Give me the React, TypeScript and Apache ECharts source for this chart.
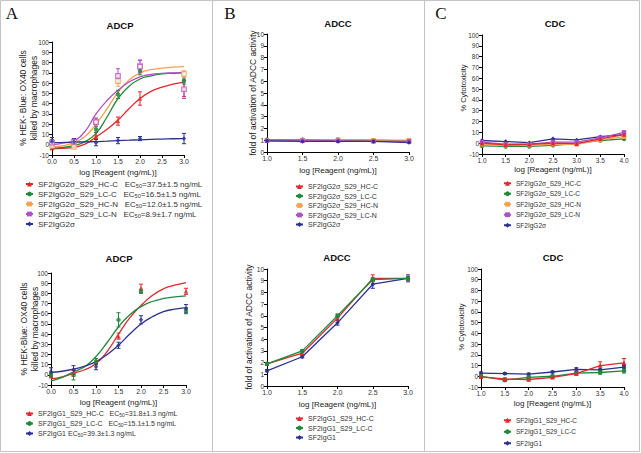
import React, { useEffect, useRef } from "react";
import * as echarts from "echarts";

const FONT = "'Liberation Sans', Arial, sans-serif";
const SERIF = "'Liberation Serif', 'Times New Roman', serif";

const RED = "#e3262d";
const GREEN = "#1f8a3b";
const ORANGE = "#f4a34c";
const PURPLE = "#b24ec6";
const BLUE = "#2c3192";

// ---- names / legends ----
const NAMES_G2 = ["SF2IgG2σ_S29_HC-C", "SF2IgG2σ_S29_LC-C", "SF2IgG2σ_S29_HC-N", "SF2IgG2σ_S29_LC-N", "SF2IgG2σ"];
const EC50_G2 = ["37.5±1.5", "16.5±1.5", "12.0±1.5", "8.9±1.7", ""];
const NAMES_G1 = ["SF2IgG1_S29_HC-C", "SF2IgG1_S29_LC-C", "SF2IgG1"];
const EC50_G1 = ["31.8±1.3", "15.1±1.5", "39.3±1.3"];
const COLORS_G2 = [RED, GREEN, ORANGE, PURPLE, BLUE];
const COLORS_G1 = [RED, GREEN, BLUE];
const SYMBOLS_G2 = ["triangle", "circle", "rect", "rect", "diamond"];
const HOLLOW_G2 = [false, false, true, true, false];
const SYMBOLS_G1 = ["triangle", "circle", "diamond"];

// ---- x values (log [Reagent (ng/mL)]) ----
const LOG_DOSE_ADCP = [0, 0.5, 1, 1.5, 2, 3];
const LOG_DOSE_FIT = [0, 0.25, 0.5, 0.75, 1, 1.25, 1.5, 1.75, 2, 2.25, 2.5, 2.75, 3];
const LOG_DOSE_ADCC = [1, 1.5, 2, 2.5, 3];
const LOG_DOSE_CDC = [1, 1.5, 2, 2.5, 3, 3.5, 4];

// ---- Panel A top: ADCP, SF2IgG2σ ----
const ADCP_G2_HCC_PTS = [-3, -1, 9, 23, 45, 55];
const ADCP_G2_LCC_PTS = [0, 2, 15, 49, 72, 62];
const ADCP_G2_HCN_PTS = [-1, -2, 22, 62, 77, 69];
const ADCP_G2_LCN_PTS = [2, 3, 22, 67, 76, 54];
const ADCP_G2_WT_PTS = [3, 3, 2, 4, 6, 6];
const ADCP_G2_HCC_ERR = [2, 2, 3, 4, 6.5, 8];
const ADCP_G2_LCC_ERR = [2, 2, 3, 4, 4, 3];
const ADCP_G2_HCN_ERR = [2, 1, 4, 5, 6, 3];
const ADCP_G2_LCN_ERR = [3, 2, 4, 7, 6, 9];
const ADCP_G2_WT_ERR = [4, 3, 3, 3, 2, 5];
const ADCP_G2_HCC_FIT = [-4, -3.5, -2.5, 0.5, 7.5, 15, 24, 35, 45, 52, 56, 59, 61];
const ADCP_G2_LCC_FIT = [-3, -2.5, -1, 3, 11, 27, 45, 57, 64, 67, 69, 69.5, 70];
const ADCP_G2_HCN_FIT = [-2, -1, 2, 8, 20, 35, 51, 63, 70, 73, 74.5, 75.5, 76];
const ADCP_G2_LCN_FIT = [0, 1.5, 4, 13, 30, 43, 53, 61, 66, 68.5, 69.5, 70, 70.5];
const ADCP_G2_WT_FIT = [2, 2.2, 2.5, 2.8, 3, 3.5, 4, 4.4, 4.8, 5.2, 5.5, 5.8, 6];

// ---- Panel A bottom: ADCP, SF2IgG1 ----
const ADCP_G1_HCC_PTS = [-1, 1.5, 13, 38, 85, 82];
const ADCP_G1_LCC_PTS = [0, 0, 13, 54, 82, 63];
const ADCP_G1_WT_PTS = [3, 5, 8, 29, 54, 65];
const ADCP_G1_HCC_ERR = [2, 3, 3, 3, 4, 3];
const ADCP_G1_LCC_ERR = [2, 5, 3, 7, 2, 3];
const ADCP_G1_WT_ERR = [4, 4, 3, 3, 4, 4];
const ADCP_G1_HCC_FIT = [-4, -2, 1.5, 5, 11, 23, 40, 56, 68, 78, 84.5, 88, 90.5];
const ADCP_G1_LCC_FIT = [-6, -2.5, 3, 8, 18, 32, 47, 59, 67, 72, 75, 76.5, 77.5];
const ADCP_G1_WT_FIT = [2.5, 3.5, 5.5, 8.5, 13, 20, 29, 40, 50, 57, 62, 64.5, 66];

// ---- Panel B: ADCC fold activation ----
const ADCC_G2_HCC = [1.0, 1.0, 0.95, 0.95, 0.9];
const ADCC_G2_LCC = [1.05, 1.05, 1.05, 1.0, 0.95];
const ADCC_G2_HCN = [1.0, 1.0, 1.05, 1.0, 1.0];
const ADCC_G2_LCN = [0.95, 0.95, 0.95, 0.9, 0.9];
const ADCC_G2_WT = [0.95, 0.9, 0.9, 0.9, 0.8];
const ADCC_G1_HCC = [1.9, 2.8, 5.8, 9.2, 9.2];
const ADCC_G1_LCC = [1.9, 3.0, 6.0, 9.1, 9.2];
const ADCC_G1_WT = [1.3, 2.5, 5.4, 8.7, 9.2];
const ADCC_G1_HCC_ERR = [0.1, 0.1, 0.15, 0.3, 0.15];
const ADCC_G1_LCC_ERR = [0.1, 0.1, 0.15, 0.15, 0.15];
const ADCC_G1_WT_ERR = [0.1, 0.1, 0.2, 0.35, 0.3];

// ---- Panel C: CDC % cytotoxicity ----
const CDC_G2_HCC = [0, -1.5, -1, 0, -0.5, 4, 8];
const CDC_G2_LCC = [-2.5, -3, -3, -2, -0.5, 2.5, 4];
const CDC_G2_HCN = [-1, -2, -2, -1, -1, 3, 6];
const CDC_G2_LCN = [1, -1, -1, 1, 1, 5, 10];
const CDC_G2_WT = [2.5, 1.5, 0.5, 4, 3, 6, 8];
const CDC_G1_HCC = [-0.5, -2.5, -3, -1, 2.5, 10, 12.5];
const CDC_G1_LCC = [0, -3.5, -1, 0, 3, 3.5, 5];
const CDC_G1_WT = [3, 2.5, 2, 4, 6.5, 6, 8.5];
const CDC_G1_HCC_ERR = [1, 1, 1, 1, 1.5, 3.5, 4];
const CDC_G1_LCC_ERR = [1, 1.5, 1, 1, 1.5, 1.5, 2];
const CDC_G1_WT_ERR = [1, 1, 1, 1, 1.5, 1, 1.5];

const errorBar = (color: string) => (params: any, api: any) => {
  const x = api.value(0);
  const lo = api.coord([x, api.value(1)]);
  const hi = api.coord([x, api.value(2)]);
  const cap = 2;
  const style = { stroke: color, lineWidth: 1, fill: "none" };
  return {
    type: "group",
    children: [
      { type: "line", shape: { x1: lo[0], y1: lo[1], x2: hi[0], y2: hi[1] }, style },
      { type: "line", shape: { x1: lo[0] - cap, y1: lo[1], x2: lo[0] + cap, y2: lo[1] }, style },
      { type: "line", shape: { x1: hi[0] - cap, y1: hi[1], x2: hi[0] + cap, y2: hi[1] }, style },
    ],
  };
};

const pairs = (xs: number[], ys: number[]) => xs.map((x, k) => [x, ys[k]]);

function errSeries(gi: number, color: string, xs: number[], ys: number[], err: number[]) {
  return {
    type: "custom",
    xAxisIndex: gi,
    yAxisIndex: gi,
    silent: true,
    z: 3,
    renderItem: errorBar(color),
    encode: { x: 0, y: [1, 2] },
    data: xs.map((x, k) => [x, ys[k] - err[k], ys[k] + err[k]]),
  };
}

function fitSeries(gi: number, name: string, color: string, symbol: string, ys: number[]) {
  return {
    type: "line",
    name,
    xAxisIndex: gi,
    yAxisIndex: gi,
    data: pairs(LOG_DOSE_FIT, ys),
    smooth: 0.5,
    showSymbol: false,
    symbol,
    lineStyle: { color, width: 1.3 },
    itemStyle: { color },
    z: 2,
    silent: true,
  };
}

function pointSeries(gi: number, name: string, color: string, symbol: string, hollow: boolean, xs: number[], ys: number[]) {
  return {
    type: "scatter",
    name,
    xAxisIndex: gi,
    yAxisIndex: gi,
    data: pairs(xs, ys),
    symbol,
    symbolSize: 4.5,
    itemStyle: hollow ? { color: "#fff", borderColor: color, borderWidth: 1.2 } : { color },
    z: 4,
    silent: true,
  };
}

function lineSeries(gi: number, name: string, color: string, symbol: string, xs: number[], ys: number[]) {
  return {
    type: "line",
    name,
    xAxisIndex: gi,
    yAxisIndex: gi,
    data: pairs(xs, ys),
    symbol,
    symbolSize: 4.5,
    showSymbol: true,
    lineStyle: { color, width: 1.3 },
    itemStyle: { color },
    z: 3,
    silent: true,
  };
}

function xAxis(gi: number, min: number, max: number, gap: number, fs: number) {
  return {
    type: "value",
    gridIndex: gi,
    min,
    max,
    interval: 0.5,
    name: "log [Reagent (ng/mL)]",
    nameLocation: "middle",
    nameGap: gap,
    nameTextStyle: { fontSize: 8, color: "#222", fontFamily: FONT },
    axisLine: { show: true, onZero: false, lineStyle: { color: "#000", width: 1 } },
    axisTick: { show: true, length: 3, lineStyle: { color: "#000" } },
    axisLabel: { fontSize: fs, color: "#333", margin: 3, fontFamily: FONT, formatter: (v: number) => v.toFixed(1) },
    splitLine: { show: false },
  };
}

function yAxis(gi: number, min: number, max: number, interval: number, fs: number) {
  return {
    type: "value",
    gridIndex: gi,
    min,
    max,
    interval,
    axisLine: { show: true, onZero: false, lineStyle: { color: "#000", width: 1 } },
    axisTick: { show: true, length: 3, lineStyle: { color: "#000" } },
    axisLabel: { fontSize: fs, color: "#333", margin: 3, fontFamily: FONT },
    splitLine: { show: false },
  };
}

function legend(names: string[], left: number, top: number, fs: number, gap: number, ecs?: string[]) {
  return {
    orient: "vertical",
    left,
    top,
    padding: 0,
    itemGap: gap,
    itemWidth: 7,
    itemHeight: 6,
    selectedMode: false,
    data: names,
    textStyle: {
      fontSize: fs,
      color: "#333",
      fontFamily: FONT,
      lineHeight: fs + 2,
      rich: { sub: { fontSize: fs * 0.7, lineHeight: fs * 0.7, verticalAlign: "bottom", fontFamily: FONT, color: "#333" } },
    },
    formatter: ecs
      ? (name: string) => {
          const ec = ecs[names.indexOf(name)];
          return ec ? `${name}${name.length > 10 ? "   " : " "}EC{sub|50}=${ec} ng/mL` : name;
        }
      : undefined,
  };
}

function txt(text: string, x: number, y: number, fs: number, opts: any = {}) {
  return {
    type: "text",
    x,
    y,
    rotation: opts.rotation || 0,
    silent: true,
    style: {
      text,
      fontSize: fs,
      fontFamily: opts.family || FONT,
      fontWeight: opts.weight || "normal",
      fill: opts.color || "#222",
      align: "center",
      textAlign: "center",
      verticalAlign: "middle",
      textVerticalAlign: "middle",
      lineHeight: opts.lineHeight || fs + 2,
    },
  };
}

function buildOption() {
  const series: any[] = [];
  // A top
  const aTopPts = [ADCP_G2_HCC_PTS, ADCP_G2_LCC_PTS, ADCP_G2_HCN_PTS, ADCP_G2_LCN_PTS, ADCP_G2_WT_PTS];
  const aTopErr = [ADCP_G2_HCC_ERR, ADCP_G2_LCC_ERR, ADCP_G2_HCN_ERR, ADCP_G2_LCN_ERR, ADCP_G2_WT_ERR];
  const aTopFit = [ADCP_G2_HCC_FIT, ADCP_G2_LCC_FIT, ADCP_G2_HCN_FIT, ADCP_G2_LCN_FIT, ADCP_G2_WT_FIT];
  NAMES_G2.forEach((n, i) => series.push(fitSeries(0, n, COLORS_G2[i], SYMBOLS_G2[i], aTopFit[i])));
  NAMES_G2.forEach((n, i) => {
    series.push(errSeries(0, COLORS_G2[i], LOG_DOSE_ADCP, aTopPts[i], aTopErr[i]));
    series.push(pointSeries(0, n, COLORS_G2[i], SYMBOLS_G2[i], HOLLOW_G2[i], LOG_DOSE_ADCP, aTopPts[i]));
  });
  // A bottom
  const aBotPts = [ADCP_G1_HCC_PTS, ADCP_G1_LCC_PTS, ADCP_G1_WT_PTS];
  const aBotErr = [ADCP_G1_HCC_ERR, ADCP_G1_LCC_ERR, ADCP_G1_WT_ERR];
  const aBotFit = [ADCP_G1_HCC_FIT, ADCP_G1_LCC_FIT, ADCP_G1_WT_FIT];
  NAMES_G1.forEach((n, i) => series.push(fitSeries(1, n, COLORS_G1[i], SYMBOLS_G1[i], aBotFit[i])));
  NAMES_G1.forEach((n, i) => {
    series.push(errSeries(1, COLORS_G1[i], LOG_DOSE_ADCP, aBotPts[i], aBotErr[i]));
    series.push(pointSeries(1, n, COLORS_G1[i], SYMBOLS_G1[i], false, LOG_DOSE_ADCP, aBotPts[i]));
  });
  // B top
  const bTop = [ADCC_G2_HCC, ADCC_G2_LCC, ADCC_G2_HCN, ADCC_G2_LCN, ADCC_G2_WT];
  NAMES_G2.forEach((n, i) => series.push(lineSeries(2, n, COLORS_G2[i], SYMBOLS_G2[i], LOG_DOSE_ADCC, bTop[i])));
  // B bottom
  const bBot = [ADCC_G1_HCC, ADCC_G1_LCC, ADCC_G1_WT];
  const bBotErr = [ADCC_G1_HCC_ERR, ADCC_G1_LCC_ERR, ADCC_G1_WT_ERR];
  [2, 0, 1].forEach((i) => {
    series.push(errSeries(3, COLORS_G1[i], LOG_DOSE_ADCC, bBot[i], bBotErr[i]));
    series.push(lineSeries(3, NAMES_G1[i], COLORS_G1[i], SYMBOLS_G1[i], LOG_DOSE_ADCC, bBot[i]));
  });
  // C top
  const cTop = [CDC_G2_HCC, CDC_G2_LCC, CDC_G2_HCN, CDC_G2_LCN, CDC_G2_WT];
  [4, 1, 2, 3, 0].forEach((i) => series.push(lineSeries(4, NAMES_G2[i], COLORS_G2[i], SYMBOLS_G2[i], LOG_DOSE_CDC, cTop[i])));
  // C bottom
  const cBot = [CDC_G1_HCC, CDC_G1_LCC, CDC_G1_WT];
  const cBotErr = [CDC_G1_HCC_ERR, CDC_G1_LCC_ERR, CDC_G1_WT_ERR];
  [2, 1, 0].forEach((i) => {
    series.push(errSeries(5, COLORS_G1[i], LOG_DOSE_CDC, cBot[i], cBotErr[i]));
    series.push(lineSeries(5, NAMES_G1[i], COLORS_G1[i], SYMBOLS_G1[i], LOG_DOSE_CDC, cBot[i]));
  });

  const border = { stroke: "#c4c4c4", lineWidth: 1, fill: "none" };
  const graphic: any[] = [
    { type: "rect", silent: true, shape: { x: 0.5, y: 0.5, width: 639, height: 451 }, style: border },
    { type: "line", silent: true, shape: { x1: 212.5, y1: 0.5, x2: 212.5, y2: 451.5 }, style: border },
    { type: "line", silent: true, shape: { x1: 424.5, y1: 0.5, x2: 424.5, y2: 451.5 }, style: border },
    txt("A", 12, 13, 17, { family: SERIF, color: "#111" }),
    txt("B", 230, 13, 17, { family: SERIF, color: "#111" }),
    txt("C", 441, 13, 17, { family: SERIF, color: "#111" }),
    txt("ADCP", 120, 25, 9.5, { weight: "bold", color: "#111" }),
    txt("ADCP", 119, 258, 9.5, { weight: "bold", color: "#111" }),
    txt("ADCC", 338, 23, 9.5, { weight: "bold", color: "#111" }),
    txt("ADCC", 337, 257, 9.5, { weight: "bold", color: "#111" }),
    txt("CDC", 555, 23, 9.5, { weight: "bold", color: "#111" }),
    txt("CDC", 553, 257, 9.5, { weight: "bold", color: "#111" }),
    txt("% HEK- Blue: OX40 cells\nkilled by macrophages", 28, 98, 8.5, { rotation: Math.PI / 2, lineHeight: 11 }),
    txt("% HEK-Blue: OX40 cells\nkilled by macrophages", 29, 329, 8.5, { rotation: Math.PI / 2, lineHeight: 11 }),
    txt("fold of activation of ADCC activity", 253, 93, 8.5, { rotation: Math.PI / 2 }),
    txt("fold of activation of ADCC activity", 249, 327, 8.5, { rotation: Math.PI / 2 }),
    txt("% Cytotoxicity", 463, 88, 7.5, { rotation: Math.PI / 2 }),
    txt("% Cytotoxicity", 461, 327, 7.5, { rotation: Math.PI / 2 }),
  ];

  return {
    animation: false,
    backgroundColor: "#ffffff",
    textStyle: { fontFamily: FONT },
    grid: [
      { left: 52, top: 42, width: 132, height: 113 },
      { left: 51, top: 273, width: 135, height: 112 },
      { left: 267, top: 34, width: 142, height: 118 },
      { left: 267, top: 269, width: 141, height: 117 },
      { left: 482, top: 35, width: 142, height: 119 },
      { left: 481, top: 269, width: 143, height: 118 },
    ],
    xAxis: [
      xAxis(0, 0, 3, 13, 7),
      xAxis(1, 0, 3, 13, 7),
      xAxis(2, 1, 3, 14.5, 7),
      xAxis(3, 1, 3, 14, 7),
      xAxis(4, 1, 4, 11, 6.5),
      xAxis(5, 1, 4, 12, 6.5),
    ],
    yAxis: [
      yAxis(0, -10, 100, 10, 6.5),
      yAxis(1, -10, 100, 10, 6.5),
      yAxis(2, 0, 10, 1, 6.5),
      yAxis(3, 0, 10, 1, 6.5),
      yAxis(4, -10, 100, 10, 6.5),
      yAxis(5, -10, 100, 10, 6.5),
    ],
    legend: [
      legend(NAMES_G2, 25, 179, 8, 0, EC50_G2),
      legend(NAMES_G1, 25, 409, 7, 1, EC50_G1),
      legend(NAMES_G2, 295, 182, 7, 0.5),
      legend(NAMES_G1, 295, 414, 7, 0.5),
      legend(NAMES_G2, 503, 179, 6.5, 2),
      legend(NAMES_G1, 503, 416, 6.5, 3),
    ],
    graphic,
    series,
  };
}

export default function App() {
  const ref = useRef<HTMLDivElement>(null);
  useEffect(() => {
    if (!ref.current) return;
    const chart = echarts.init(ref.current, undefined, { renderer: "svg" });
    chart.setOption(buildOption() as any);
    return () => chart.dispose();
  }, []);
  return (
    <div
      ref={ref}
      style={{ position: "absolute", left: 0, top: 0, width: 641, height: 453, background: "#fff" }}
    />
  );
}
